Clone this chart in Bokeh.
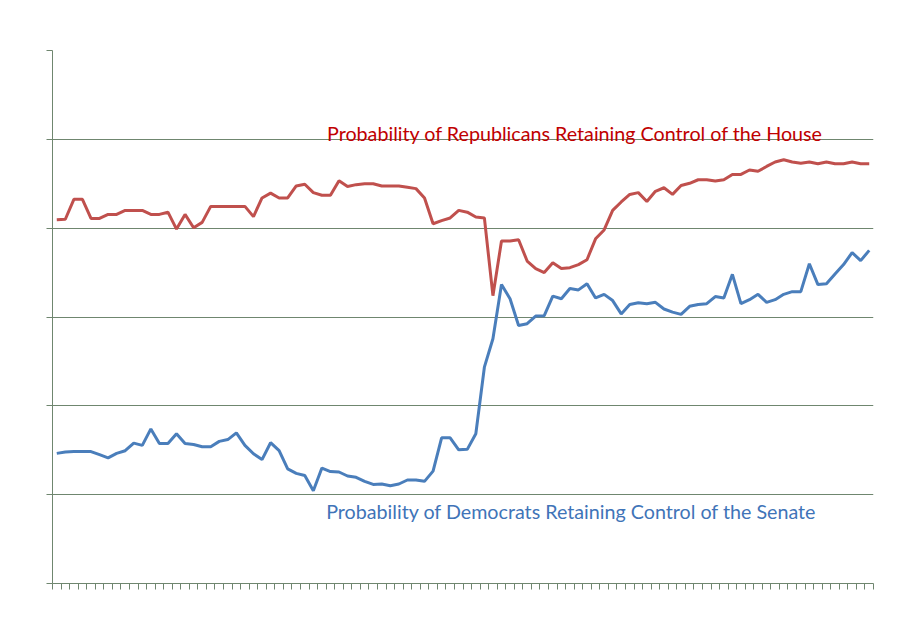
from bokeh.plotting import figure
from bokeh.models import FixedTicker, CustomJSTickFormatter, Label, ColumnDataSource
from bokeh.embed import file_html
from bokeh.resources import INLINE

# Probability (%) of Republicans retaining control of the House
house = [81.9, 82.0, 86.5, 86.5, 82.2, 82.2, 83.1, 83.1, 84.0, 84.0,
         84.0, 83.1, 83.1, 83.6, 79.8, 83.1, 80.1, 81.3, 84.9, 84.9,
         84.9, 84.9, 84.9, 82.6, 86.8, 87.9, 86.8, 86.8, 89.5, 89.9,
         88.0, 87.4, 87.4, 90.7, 89.4, 89.8, 90.0, 90.0, 89.5, 89.5,
         89.5, 89.2, 88.9, 86.8, 81.0, 81.7, 82.3, 84.0, 83.6, 82.5,
         82.3, 64.8, 77.1, 77.1, 77.4, 72.6, 70.9, 70.0, 72.2, 70.9,
         71.1, 71.8, 72.9, 77.6, 79.6, 84.0, 85.9, 87.6, 88.0, 86.0,
         88.3, 89.1, 87.6, 89.6, 90.1, 90.9, 90.9, 90.6, 90.9, 92.1,
         92.1, 93.1, 92.8, 93.9, 94.9, 95.4, 94.9, 94.6, 94.9, 94.5,
         94.9, 94.5, 94.5, 94.9, 94.5, 94.5]

# Probability (%) of Democrats retaining control of the Senate
senate = [29.3, 29.6, 29.7, 29.7, 29.7, 29.0, 28.3, 29.3, 29.9, 31.6,
          31.1, 34.8, 31.5, 31.5, 33.7, 31.5, 31.3, 30.8, 30.8, 32.0,
          32.4, 33.9, 31.1, 29.2, 27.9, 31.7, 29.9, 25.8, 24.8, 24.3,
          20.9, 26.0, 25.2, 25.1, 24.2, 23.9, 23.0, 22.3, 22.4, 22.0,
          22.4, 23.3, 23.3, 23.0, 25.3, 32.8, 32.8, 30.1, 30.2, 33.7,
          48.7, 55.1, 67.3, 64.1, 58.1, 58.5, 60.2, 60.3, 64.7, 64.1,
          66.4, 66.1, 67.5, 64.3, 65.1, 63.7, 60.7, 62.8, 63.2, 63.0,
          63.3, 61.8, 61.1, 60.6, 62.4, 62.8, 63.0, 64.6, 64.3, 69.6,
          63.0, 63.9, 65.1, 63.3, 63.9, 65.1, 65.7, 65.7, 72.0, 67.3,
          67.5, 69.7, 71.8, 74.5, 72.7, 75.0]

days = list(range(len(house)))
y_ticks = [0, 20, 40, 60, 80, 100, 120]
house_label = "Probability of Republicans Retaining Control of the House"
senate_label = "Probability of Democrats Retaining Control of the Senate"

GRID = "#6f866f"

p = figure(width=882, height=627, output_backend="svg", toolbar_location=None,
           x_range=(-0.5, len(days) - 0.5), y_range=(0, 120),
           min_border_left=52, min_border_right=9, min_border_top=50, min_border_bottom=44)
p.outline_line_color = None
p.background_fill_color = "white"
p.border_fill_color = "white"

src = ColumnDataSource(dict(day=days, house=house, senate=senate))
p.line("day", "house", source=src, line_color="#c0504d", line_width=3)
p.line("day", "senate", source=src, line_color="#4a7ebb", line_width=3)

blank = CustomJSTickFormatter(code="return ''")

p.xgrid.grid_line_color = None
p.ygrid.ticker = FixedTicker(ticks=y_ticks)
p.ygrid.grid_line_color = GRID
p.ygrid.grid_line_width = 1

p.yaxis.ticker = FixedTicker(ticks=y_ticks)
p.yaxis.formatter = blank
p.yaxis.axis_line_color = GRID
p.yaxis.major_tick_line_color = GRID
p.yaxis.major_tick_out = 6
p.yaxis.major_tick_in = 0
p.yaxis.minor_tick_line_color = None

p.xaxis.ticker = FixedTicker(ticks=[d - 0.5 for d in days] + [len(days) - 0.5])
p.xaxis.formatter = blank
p.xaxis.axis_line_color = GRID
p.xaxis.major_tick_line_color = GRID
p.xaxis.major_tick_out = 6
p.xaxis.major_tick_in = 0
p.xaxis.minor_tick_line_color = None

p.add_layout(Label(x=31.6, y=101.3, text=house_label, text_color="#c00000",
                   text_font="Lato", text_font_size="19.7px", text_baseline="middle"))
p.add_layout(Label(x=31.5, y=16.2, text=senate_label, text_color="#3f74b8",
                   text_font="Lato", text_font_size="19.7px", text_baseline="middle"))

open("out.html", "w").write(file_html(p, INLINE))
